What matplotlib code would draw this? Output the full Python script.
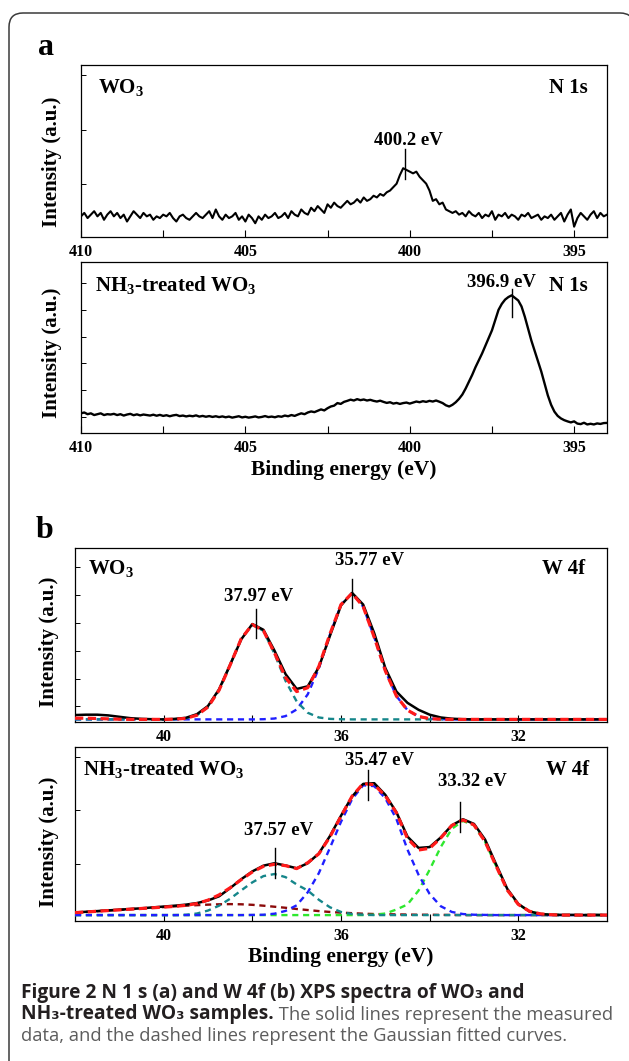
import matplotlib

matplotlib.use("Agg")
import matplotlib.pyplot as plt
import numpy as np
from matplotlib.patches import PathPatch
from matplotlib.path import Path
from matplotlib.transforms import IdentityTransform

W, H = 629, 1061
SERIF = "Liberation Serif"
CAPTION = ["Open Sans", "DejaVu Sans"]
DARK = "#231f20"
GREY = "#5d5d5d"
RED = "#ff1a1a"
BLUE = "#1f1fff"
TEAL = "#15868a"
GREEN = "#2ee82e"
BROWN = "#8b0a0a"

plt.rcParams.update({
    "font.family": SERIF, "font.weight": "bold",
    "mathtext.fontset": "custom", "mathtext.rm": "Liberation Serif:bold",
    "mathtext.it": "Liberation Serif:bold", "mathtext.bf": "Liberation Serif:bold",
    "axes.linewidth": 0.9, "xtick.direction": "in", "ytick.direction": "in",
    "xtick.labelsize": 11.5, "ytick.labelsize": 11.5,
})

# --- N 1s spectra (intensity in % of panel height) ---------------------------
n1s_energy = np.linspace(410, 394, 161)
n1s_wo3 = [
    12, 14, 11, 13, 15, 12, 14, 10, 13, 15, 12, 14, 11, 13, 9, 12, 15, 13, 11, 14, 12,
    13, 10, 12, 11, 13, 12, 14, 11, 9, 12, 13, 11, 10, 12, 14, 12, 11, 13, 15, 11,
    16, 12, 10, 13, 11, 12, 14, 10, 12, 9, 13, 11, 8, 12, 10, 13, 11, 12, 14, 11,
    12, 14, 11, 15, 13, 12, 16, 14, 13, 17, 15, 18, 16, 14, 19, 17, 20, 18, 17, 19,
    21, 19, 20, 22, 20, 23, 21, 22, 24, 23, 25, 24, 26, 27, 29, 31, 36, 40, 39, 38,
    37, 38, 35, 33, 31, 27, 21, 22, 19, 20, 16, 15, 14, 15, 13, 14, 12, 15, 13, 12,
    14, 11, 13, 12, 15, 10, 13, 12, 14, 11, 13, 12, 10, 13, 12, 14, 11, 12, 13, 10,
    12, 11, 13, 10, 12, 14, 9, 13, 16, 6, 11, 14, 12, 10, 13, 15, 11, 14, 12, 13,
]
n1s_nh3 = [
    11.5, 12, 11, 11.5, 10.5, 11, 11.5, 10.5, 11, 10.8, 11.2, 10.5, 11, 10.2, 10.8,
    11.2, 10.4, 10.9, 10.3, 10.8, 10.5,
    10.2, 10.7, 10.1, 10.6, 10.0, 10.4, 9.8, 10.3, 10.6, 9.9,
    10.2, 9.7, 10.1, 9.8, 10.3, 9.6, 10.0, 9.5, 9.9, 9.4,
    9.8, 9.3, 9.7, 9.2, 9.6, 9.0, 9.4, 9.8, 9.1, 9.5,
    9.0, 9.3, 9.7, 9.1, 9.4, 9.9, 9.3, 9.6, 9.2, 9.8,
    9.5, 10.2, 9.8, 10.5, 10.0, 10.8, 11.5, 11.0, 12.0, 12.6,
    12.2, 13.0, 13.8, 13.2, 14.5, 15.5, 16.0, 17.5, 17.0, 18.2,
    18.8, 19.5, 19.0, 19.8, 19.2, 19.6, 19.0, 19.4, 18.8, 18.4,
    18.9, 18.2, 17.6, 18.0, 17.2, 17.6, 17.0, 17.5, 17.8, 17.2,
    17.8, 18.4, 18.0, 18.6, 18.2, 18.8, 18.4, 19.0, 18.3, 17.5,
    16.2, 15.5, 16.5, 18.0, 20.0, 22.5, 26.0, 30.0, 34.0, 38.5,
    42.5, 46.5, 51.0, 55.5, 60.0, 66.0, 72.0, 75.5, 78.0, 79.5,
    80.5, 79.0, 77.5, 74.0, 68.0, 61.0, 54.0, 48.0, 42.0, 36.0,
    29.0, 22.0, 16.5, 12.5, 10.0, 8.5, 7.5, 6.8, 6.2, 6.8,
    5.5, 5.2, 6.0, 5.0, 5.4, 5.0, 5.6, 5.3, 5.8, 5.9,
]

# --- W 4f spectra and Gaussian fits ------------------------------------------
w4f_energy = np.linspace(42, 30, 49)
wo3_meas = [
    4.0, 4.2, 4.2, 3.8, 3.0, 2.2, 1.8, 1.6, 1.5,
    1.8, 2.4, 4.5, 9.2, 18.8, 33.0, 47.5, 56.3, 53.0, 41.0, 27.5, 19.0, 20.5,
    31.5, 49.5, 67.0, 74.2, 67.5, 51.0, 31.0, 17.5, 11.0, 7.0, 4.2, 2.6, 1.9, 1.6,
] + [1.5] * 13
wo3_fit = [
    2.2, 2.2, 2.0, 1.8, 1.6, 1.5, 1.5, 1.5, 1.5,
    1.6, 2.1, 3.9, 8.6, 18.3, 32.8, 47.9, 56.0, 52.5, 39.7, 25.5, 17.5, 19.7,
    31.9, 50.5, 67.5, 74.0, 66.3, 48.7, 29.4, 14.9, 6.8, 3.2, 1.9, 1.6,
] + [1.5] * 15
wo3_peak1 = [1.5] * 9 + [
    1.6, 2.1, 3.9, 8.6, 18.3, 32.8, 47.9, 56.0, 52.4, 39.2, 23.6, 11.8, 5.3, 2.6, 1.8, 1.6,
] + [1.5] * 24
wo3_peak2 = [1.5] * 17 + [
    1.6, 2.0, 3.4, 7.2, 15.9, 30.8, 50.2, 67.4, 74.0, 66.3, 48.7, 29.4, 14.9, 6.8, 3.2, 1.9, 1.6,
] + [1.5] * 15

nh3_meas = [
    4.9, 5.3, 5.7, 6.1, 6.5, 6.9, 7.3, 7.8, 8.3, 8.8,
    9.4, 10.3, 11.8, 14.2, 18.9, 24.0, 28.5, 31.8, 33.2, 31.9,
    30.3, 33.2, 38.8, 48.8, 60.5, 71.5, 78.8, 79.2, 72.5, 62.5,
    48.5, 42.0, 42.5, 48.0, 55.0, 58.5, 55.8, 46.8, 32.5, 18.5,
    9.8, 5.5, 4.0, 3.6, 3.5, 3.5, 3.4, 3.5, 3.4,
]
nh3_fit = [
    4.8, 5.2, 5.6, 6.0, 6.4, 6.8, 7.2, 7.6, 8.0, 8.4,
    9.0, 10.0, 12.0, 15.0, 19.1, 23.8, 28.2, 31.4, 32.6, 31.8,
    30.1, 33.5, 38.6, 48.3, 60.2, 71.7, 79.0, 78.3, 71.9, 62.2,
    47.4, 40.8, 41.8, 47.7, 54.9, 58.1, 55.2, 45.6, 31.5, 17.8,
    9.5, 5.6, 4.1, 3.6, 3.4, 3.4, 3.4, 3.4, 3.4,
]
nh3_peak_w6 = [3.4] * 15 + [
    3.4, 3.5, 3.6, 4.2, 5.8, 9.0, 16.5, 27.5, 42.0, 57.0, 70.0, 78.0, 77.5,
    70.5, 58.6, 41.0, 26.5, 15.5, 8.5, 5.2, 4.0, 3.6, 3.5,
] + [3.4] * 11
nh3_peak_w6b = [3.4] * 10 + [
    3.6, 4.3, 6.0, 8.8, 12.8, 17.6, 22.2, 25.8, 27.0, 25.2, 21.0, 17.5, 12.2, 7.9, 5.2, 4.0, 3.6,
] + [3.4] * 22
nh3_peak_w5 = [3.4] * 27 + [
    3.6, 4.3, 6.6, 9.5, 17.5, 29.5, 42.5, 53.0, 57.5, 55.0, 45.5, 31.5, 17.8, 9.5, 5.6, 4.1, 3.6,
] + [3.4] * 5
nh3_background = [
    4.8, 5.2, 5.6, 6.0, 6.4, 6.8, 7.2, 7.6, 8.0, 8.4, 8.8, 9.1, 9.4, 9.6, 9.7, 9.6, 9.3,
    8.8, 8.2, 7.6, 6.9, 6.3, 5.7, 5.2, 4.8, 4.5, 4.2, 4.0, 3.9, 3.8, 3.7, 3.6, 3.6, 3.5, 3.5,
] + [3.4] * 14

# peak markers: (energy, tick bottom, tick top, label energy, label height, text)
n1s_wo3_marks = [(400.15, 34, 51, 400.05, 56, "400.2 eV")]
n1s_nh3_marks = [(396.9, 68, 84, 397.2, 88, "396.9 eV")]
w4f_wo3_marks = [(37.92, 48, 65, 37.85, 72, "37.97 eV"), (35.75, 65.5, 82, 35.36, 93, "35.77 eV")]
w4f_nh3_marks = [(37.5, 25, 42, 37.4, 52, "37.57 eV"), (35.38, 69.5, 87, 35.13, 92.5, "35.47 eV"),
                 (33.31, 51, 68.5, 33.04, 80, "33.32 eV")]

fig = plt.figure(figsize=(W / 100, H / 100), dpi=100)


def px_axes(left, top, right, bottom):
    return fig.add_axes([left / W, 1 - bottom / H, (right - left) / W, (bottom - top) / H])


def style(ax, xlim, major, minor, yticks):
    ax.set_xlim(*xlim)
    ax.set_ylim(0, 100)
    ax.set_xticks(major)
    ax.set_xticks(minor, minor=True)
    ax.set_xticklabels([str(v) for v in major])
    ax.set_yticks(yticks)
    ax.set_yticklabels([])
    ax.tick_params(axis="x", which="both", length=5, width=0.8, pad=5, top=False)
    ax.tick_params(axis="y", length=3.5, width=0.7, right=False)
    for lab in ax.get_xticklabels():
        lab.set_fontweight("bold")


def marks(ax, items, size=13.5):
    for x, y0, y1, lx, ly, txt in items:
        ax.plot([x, x], [y0, y1], color="black", lw=1.0, zorder=6)
        ax.text(lx, ly, txt, ha="center", va="center", fontsize=size, zorder=6)


# panel a
a1 = px_axes(81, 65, 607, 237)
a1.plot(n1s_energy, n1s_wo3, color="black", lw=1.5)
style(a1, (410, 394), [410, 405, 400, 395], [407.5, 402.5, 397.5], [31, 62, 94])
marks(a1, n1s_wo3_marks)
a1.text(0.032, 0.835, r"WO$_3$", transform=a1.transAxes, fontsize=15, va="baseline")
a1.text(0.964, 0.835, "N 1s", transform=a1.transAxes, fontsize=15, va="baseline", ha="right")

a2 = px_axes(81, 262, 607, 433)
a2.plot(n1s_energy, n1s_nh3, color="black", lw=1.7)
style(a2, (410, 394), [410, 405, 400, 395], [407.5, 402.5, 397.5], [9.5, 25, 41, 56, 72, 88])
marks(a2, n1s_nh3_marks)
a2.text(0.027, 0.83, r"NH$_3$-treated WO$_3$", transform=a2.transAxes, fontsize=15, va="baseline")
a2.text(0.964, 0.83, "N 1s", transform=a2.transAxes, fontsize=15, va="baseline", ha="right")

# panel b
dash_fit = dict(color=RED, lw=2.3, ls=(0, (2.6, 1.4)), zorder=5)
dash_comp = dict(lw=1.7, ls=(0, (2.6, 2.0)), zorder=3)

b1 = px_axes(75, 548, 607, 722)
b1.plot(w4f_energy, wo3_peak2, color=BLUE, **dash_comp)
b1.plot(w4f_energy, wo3_peak1, color=TEAL, **dash_comp)
b1.plot(w4f_energy, wo3_meas, color="black", lw=1.8, zorder=4)
b1.plot(w4f_energy, wo3_fit, **dash_fit)
style(b1, (42, 30), [40, 36, 32], [38, 34], [9, 25, 41, 57, 73, 89])
marks(b1, w4f_wo3_marks)
b1.text(0.024, 0.85, r"WO$_3$", transform=b1.transAxes, fontsize=15, va="baseline")
b1.text(0.959, 0.85, "W 4f", transform=b1.transAxes, fontsize=15, va="baseline", ha="right")

b2 = px_axes(75, 747, 607, 921)
b2.plot(w4f_energy, nh3_background, color=BROWN, **dash_comp)
b2.plot(w4f_energy, nh3_peak_w5, color=GREEN, **dash_comp)
b2.plot(w4f_energy, nh3_peak_w6b, color=TEAL, **dash_comp)
b2.plot(w4f_energy, nh3_peak_w6, color=BLUE, **dash_comp)
b2.plot(w4f_energy, nh3_meas, color="black", lw=1.8, zorder=4)
b2.plot(w4f_energy, nh3_fit, **dash_fit)
style(b2, (42, 30), [40, 36, 32], [38, 34], [33, 64, 94])
marks(b2, w4f_nh3_marks)
b2.text(0.015, 0.84, r"NH$_3$-treated WO$_3$", transform=b2.transAxes, fontsize=15, va="baseline")
b2.text(0.966, 0.84, "W 4f", transform=b2.transAxes, fontsize=15, va="baseline", ha="right")

# axis titles and panel letters
for cx, cy in [(52, 162), (52, 353), (49, 642), (49, 842)]:
    fig.text(cx / W, 1 - cy / H, "Intensity (a.u.)", rotation=90, ha="center", va="center", fontsize=15)
for cx, cy in [(344, 470), (341, 957)]:
    fig.text(cx / W, 1 - cy / H, "Binding energy (eV)", ha="center", va="center", fontsize=15.5)
fig.text(38 / W, 1 - 55 / H, "a", fontsize=23, va="baseline")
fig.text(36 / W, 1 - 538 / H, "b", fontsize=23, va="baseline")

# caption
cap = fig.add_axes([0, 0, 1, 1], zorder=-1)
cap.set_axis_off()
bold_size, reg_size = 13.8, 13.2
cap.text(21 / W, 1 - 998 / H, "Figure 2 N 1 s (a) and W 4f (b) XPS spectra of WO\u2083 and",
         family=CAPTION, fontsize=bold_size, fontweight="bold", color=DARK, va="baseline")
t2 = cap.text(21 / W, 1 - 1019 / H, "NH\u2083-treated WO\u2083 samples.",
              family=CAPTION, fontsize=bold_size, fontweight="bold", color=DARK, va="baseline")
cap.annotate(" The solid lines represent the measured", xy=(1, 0), xycoords=t2, va="bottom",
             family=CAPTION, fontsize=reg_size, fontweight="normal", color=GREY)
cap.text(21 / W, 1 - 1041 / H, "data, and the dashed lines represent the Gaussian fitted curves.",
         family=CAPTION, fontsize=reg_size, fontweight="normal", color=GREY, va="baseline")

# rounded frame (pixel coords, y up): left edge, top edge, top-right corner running off the page
top, left, right, r = H - 13, 9, 634, 14
frame_path = Path(
    [(left, -10), (left, top - r), (left, top), (left + r, top),
     (right - r, top), (right, top), (right, top - r), (right, -10)],
    [Path.MOVETO, Path.LINETO, Path.CURVE3, Path.CURVE3,
     Path.LINETO, Path.CURVE3, Path.CURVE3, Path.LINETO],
)
fig.add_artist(PathPatch(frame_path, transform=IdentityTransform(), fill=False,
                         edgecolor="#3a3a3a", lw=1.1))

fig.savefig("out.png", dpi=100)
